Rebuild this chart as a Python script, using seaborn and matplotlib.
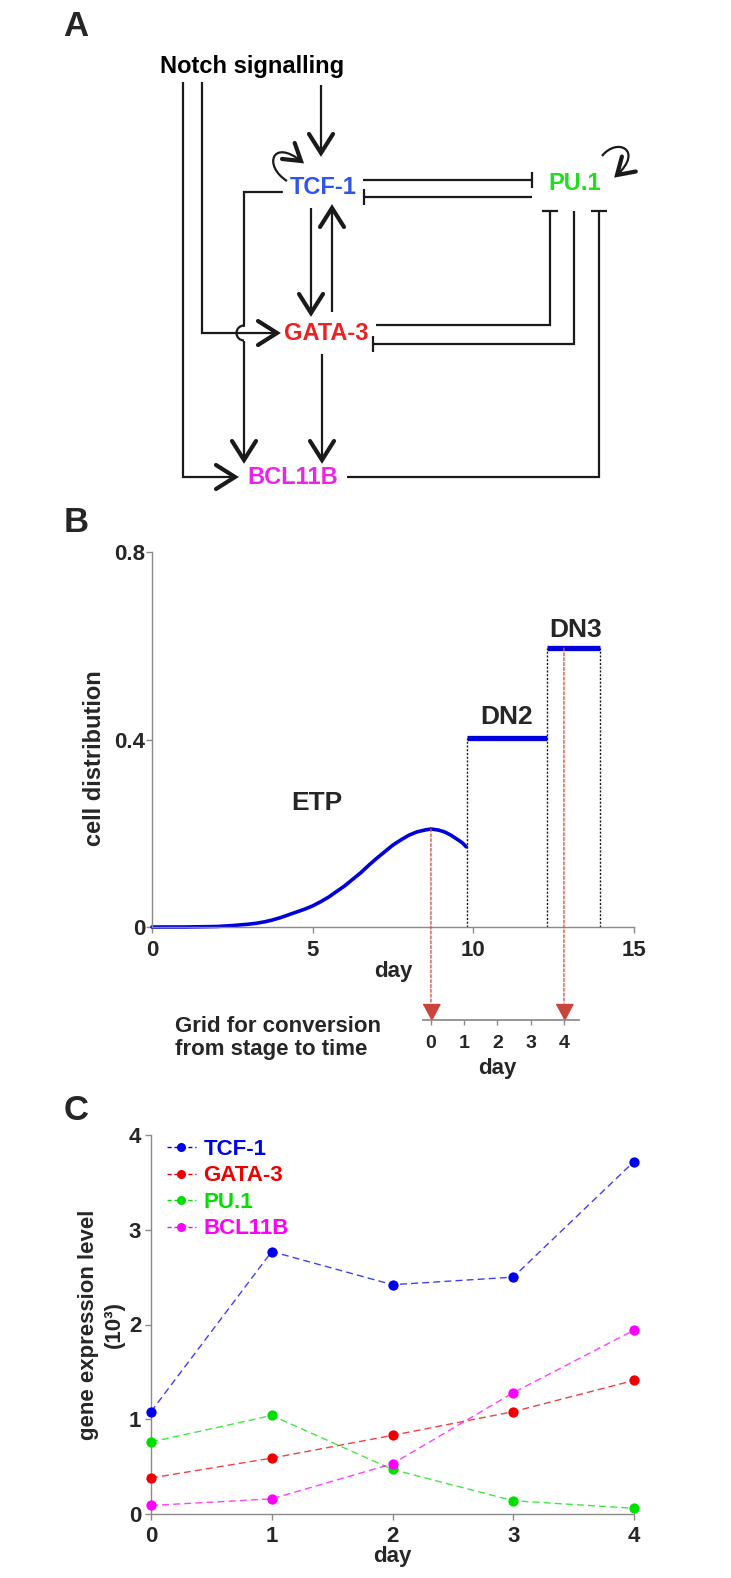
import numpy as np
import matplotlib
matplotlib.use('Agg')
import matplotlib.pyplot as plt
import seaborn as sns
from matplotlib.patches import Arc, PathPatch, ConnectionPatch
from matplotlib.path import Path
from matplotlib.lines import Line2D

# ---------------- data ----------------
# panel A: regulatory interactions (source, target, kind)
interactions = [
    ('Notch', 'BCL11B', 'act'),
    ('Notch', 'GATA-3', 'act'),
    ('Notch', 'TCF-1', 'act'),
    ('TCF-1', 'TCF-1', 'act'),
    ('PU.1', 'PU.1', 'act'),
    ('TCF-1', 'BCL11B', 'act'),
    ('TCF-1', 'GATA-3', 'act'),
    ('GATA-3', 'TCF-1', 'act'),
    ('TCF-1', 'PU.1', 'inh'),
    ('PU.1', 'TCF-1', 'inh'),
    ('GATA-3', 'PU.1', 'inh'),
    ('PU.1', 'GATA-3', 'inh'),
    ('GATA-3', 'BCL11B', 'act'),
    ('BCL11B', 'PU.1', 'inh'),
]
node_names = ['Notch', 'TCF-1', 'PU.1', 'GATA-3', 'BCL11B']
node_labels = ['Notch signalling', 'TCF-1', 'PU.1', 'GATA-3', 'BCL11B']

# panel B: stage distribution (ETP curve)
etp_day = [0, 1, 2, 2.5, 3, 3.25, 3.5, 3.75, 4, 4.25, 4.5, 4.75, 5, 5.25, 5.5, 5.75,
           6, 6.25, 6.5, 6.75, 7, 7.25, 7.5, 7.75, 8, 8.25, 8.5, 8.68, 8.9, 9.1,
           9.3, 9.5, 9.65, 9.78]
etp_frac = [0, 0, 0.001, 0.003, 0.006, 0.008, 0.011, 0.015, 0.020, 0.026, 0.032, 0.038,
            0.045, 0.054, 0.064, 0.076, 0.088, 0.102, 0.116, 0.132, 0.147, 0.161,
            0.175, 0.186, 0.196, 0.203, 0.207, 0.209, 0.207, 0.203, 0.196, 0.187,
            0.180, 0.171]
stage_names = ['ETP', 'DN2', 'DN3']
dn_start = [9.81, 12.29]
dn_end = [12.29, 13.95]
dn_level = [0.404, 0.595]
# stage-axis positions mapped onto day 0 and day 4 of the time grid
grid_days = [0, 1, 2, 3, 4]
grid_anchor_stage = [8.68, 12.82]
grid_anchor_level = [0.209, 0.595]

# panel C: gene expression (10^3)
days = [0, 1, 2, 3, 4]
tcf1 = [1.08, 2.77, 2.42, 2.50, 3.72]
gata3 = [0.38, 0.59, 0.83, 1.08, 1.41]
pu1 = [0.76, 1.04, 0.47, 0.14, 0.06]
bcl11b = [0.09, 0.16, 0.53, 1.28, 1.94]
genes = ['TCF-1', 'GATA-3', 'PU.1', 'BCL11B']

# ---------------- style ----------------
sns.set_theme(style='white')
plt.rcParams['font.family'] = ['Liberation Sans', 'DejaVu Sans']
plt.rcParams['font.weight'] = 'bold'
plt.rcParams['axes.labelweight'] = 'bold'

node_colors = {'Notch': 'black', 'TCF-1': '#2f55ee', 'PU.1': '#22dd22',
               'GATA-3': '#ee2020', 'BCL11B': '#ee22ee'}
line_colors = ['#0000ee', '#ee0000', '#00e000', '#ff00ff']
blue = '#0000dd'
red_dot = '#d9534f'
spine_gray = '#8a8a8a'

W, H = 731, 1578
fig = plt.figure(figsize=(W / 100, H / 100), dpi=100)


def px_axes(l, t, r, b):
    return fig.add_axes([l / W, 1 - b / H, (r - l) / W, (b - t) / H])


def style_axes(ax, labelsize=16, pad=3):
    sns.despine(ax=ax)
    for s in ['left', 'bottom']:
        ax.spines[s].set_color(spine_gray)
        ax.spines[s].set_linewidth(1.0)
    ax.tick_params(direction='out', length=4, width=1, color=spine_gray,
                   labelsize=labelsize, pad=pad, left=True, bottom=True)


# ---------------- panel A ----------------
node_pos = {'Notch': (252, 67), 'TCF-1': (323, 188), 'PU.1': (575, 184),
            'GATA-3': (326, 333), 'BCL11B': (293, 477)}
routes = {
    ('Notch', 'BCL11B'): [(183, 82), (183, 477), (235, 477)],
    ('Notch', 'GATA-3'): [(202, 82), (202, 333), (277, 333)],
    ('Notch', 'TCF-1'): [(321, 85), (321, 153)],
    ('TCF-1', 'GATA-3'): [(311, 208), (311, 313)],
    ('GATA-3', 'TCF-1'): [(332, 312), (332, 208)],
    ('TCF-1', 'PU.1'): [(363, 180), (532, 180)],
    ('PU.1', 'TCF-1'): [(532, 197), (364, 197)],
    ('GATA-3', 'PU.1'): [(376, 325), (550, 325), (550, 211)],
    ('PU.1', 'GATA-3'): [(574, 211), (574, 344), (373, 344)],
    ('GATA-3', 'BCL11B'): [(322, 354), (322, 460)],
    ('BCL11B', 'PU.1'): [(347, 477), (599, 477), (599, 211)],
    ('TCF-1', 'BCL11B'): [(282, 192), (244, 192), (244, 460)],
}
loops = {'TCF-1': [(287, 181), (263, 166), (272, 138), (301, 161)],
         'PU.1': [(602, 156), (617, 137), (644, 150), (617, 175)]}
hops = {('TCF-1', 'BCL11B'): (244, 333)}


def end_mark(ax, p_from, p_to, kind, size=1.0):
    d = np.array(p_to, float) - np.array(p_from, float)
    d /= np.hypot(*d)
    n = np.array([-d[1], d[0]])
    tip = np.array(p_to, float)
    if kind == 'act':
        L, w = 19 * size, 12 * size
        a, b = tip - d * L + n * w, tip - d * L - n * w
        ax.plot([a[0], tip[0], b[0]], [a[1], tip[1], b[1]], color='k', lw=3.0,
                solid_joinstyle='miter', solid_capstyle='round')
    else:
        a, b = tip + n * 8, tip - n * 8
        ax.plot([a[0], b[0]], [a[1], b[1]], color='k', lw=1.6, solid_capstyle='butt')


axA = px_axes(0, 0, W, 500)
axA.set_xlim(0, W)
axA.set_ylim(500, 0)
axA.axis('off')

for src, tgt, kind in interactions:
    if src == tgt:
        p = loops[src]
        path = Path(p, [Path.MOVETO, Path.CURVE4, Path.CURVE4, Path.CURVE4])
        axA.add_patch(PathPatch(path, fill=False, lw=1.6, ec='k'))
        end_mark(axA, p[2], p[3], kind, size=0.85)
        continue
    pts = routes[(src, tgt)]
    if (src, tgt) in hops:
        hx, hy = hops[(src, tgt)]
        r = 7.5
        first = pts[:-1] + [(hx, hy - r)]
        axA.plot(*zip(*first), color='k', lw=1.6, solid_joinstyle='miter')
        axA.add_patch(Arc((hx, hy), 2 * r, 2 * r, theta1=90, theta2=270, lw=1.6, color='k'))
        pts = [(hx, hy + r), pts[-1]]
    axA.plot(*zip(*pts), color='k', lw=1.6, solid_joinstyle='miter', solid_capstyle='butt')
    end_mark(axA, pts[-2], pts[-1], kind)

for name, label in zip(node_names, node_labels):
    x, y = node_pos[name]
    axA.text(x, y, label, ha='center', va='center', fontsize=17,
             color=node_colors[name], fontweight='bold')

# ---------------- panel B ----------------
axB = px_axes(152, 552, 634, 927)
sns.lineplot(x=etp_day, y=etp_frac, ax=axB, color=blue, lw=2.6,
             estimator=None, sort=False, clip_on=False)
axB.hlines(dn_level, dn_start, dn_end, color=blue, lw=3.8)
axB.vlines(dn_start, 0, dn_level, color='k', lw=1.0, linestyles=(0, (1.5, 1.2)))
axB.vlines(dn_end[-1], 0, dn_level[-1], color='k', lw=1.0, linestyles=(0, (1.5, 1.2)))
axB.set_xlim(0, 15)
axB.set_ylim(0, 0.8)
axB.set_xticks([0, 5, 10, 15])
axB.set_yticks([0, 0.4, 0.8], labels=['0', '0.4', '0.8'])
style_axes(axB, labelsize=16)
axB.tick_params(axis='y', pad=1)
axB.tick_params(axis='x', pad=5)
axB.set_xlabel('day', fontsize=16)
axB.xaxis.set_label_coords(0.5, -0.09)
axB.set_ylabel('cell distribution', fontsize=17)
axB.yaxis.set_label_coords(-0.095, 0.45)

stage_label_x = [5.12, 11.03, 13.17]
stage_label_y = [0.264, 0.448, 0.633]
for name, x, y in zip(stage_names, stage_label_x, stage_label_y):
    axB.text(x, y, name, ha='center', va='center', fontsize=19, fontweight='bold')

# time grid under panel B
grid_pos = np.interp(grid_days, [grid_days[0], grid_days[-1]], grid_anchor_stage)
axG = px_axes(152, 1003, 634, 1020)
axG.patch.set_alpha(0)
axG.set_xlim(0, 15)
axG.set_ylim(0, 1)
for s in ['left', 'top', 'right']:
    axG.spines[s].set_visible(False)
axG.spines['bottom'].set_color(spine_gray)
axG.spines['bottom'].set_bounds(grid_pos[0] - 0.26, grid_pos[-1] + 0.48)
axG.set_yticks([])
axG.set_xticks(grid_pos, labels=[str(d) for d in grid_days])
axG.tick_params(axis='x', direction='out', length=3.5, width=1, color=spine_gray,
                labelsize=14, pad=7, bottom=True)
axG.set_xlabel('day', fontsize=16)
axG.xaxis.set_label_coords(grid_pos[2] / 15, -2.25)

tri = [(-0.53, 1), (0.53, 1), (0, 0)]
for xs, lvl in zip(grid_anchor_stage, grid_anchor_level):
    con = ConnectionPatch(xyA=(xs, lvl), coordsA=axB.transData,
                          xyB=(xs, 1), coordsB=axG.transData,
                          color=red_dot, lw=1.0, linestyle=(0, (2, 1.5)))
    fig.add_artist(con)
axG.plot(grid_anchor_stage, [0, 0], ls='none', marker=tri, ms=23,
         color='#c9453c', clip_on=False)

fig.text(175 / W, 1 - 1016 / H, 'Grid for conversion\nfrom stage to time',
         ha='left', va='top', fontsize=16, fontweight='bold', linespacing=1.12)

# ---------------- panel C ----------------
axC = px_axes(151, 1135, 634, 1514)
handles = []
for gene, vals, col in zip(genes, [tcf1, gata3, pu1, bcl11b], line_colors):
    sns.lineplot(x=days, y=vals, ax=axC, color=col, lw=1.0, alpha=0.75,
                 linestyle=(0, (5, 3)), estimator=None, legend=False, clip_on=False)
    sns.scatterplot(x=days, y=vals, ax=axC, color=col, s=55, linewidth=0,
                    legend=False, clip_on=False, zorder=3)
    handles.append(Line2D([], [], color=col, lw=1.0, linestyle=(0, (3, 2)),
                          marker='o', ms=6.5, mew=0))
axC.set_xlim(0, 4)
axC.set_ylim(0, 4)
axC.set_xticks(days)
axC.set_yticks([0, 1, 2, 3, 4])
style_axes(axC, labelsize=16)
axC.tick_params(axis='y', pad=3)
axC.tick_params(axis='x', pad=5)
axC.set_xlabel('day', fontsize=16)
axC.xaxis.set_label_coords(0.5, -0.085)
axC.set_ylabel('gene expression level\n(10³)', fontsize=16, linespacing=1.3)
axC.yaxis.set_label_coords(-0.055, 0.5)
leg = axC.legend(handles, genes, loc='upper left', bbox_to_anchor=(0.033, 0.99),
                 frameon=False, borderaxespad=0, borderpad=0, handlelength=1.3,
                 handletextpad=0.35, labelspacing=0.25,
                 labelcolor=line_colors, prop={'weight': 'bold', 'size': 16})

# panel letters
for letter, y in zip(['A', 'B', 'C'], [27, 522, 1110]):
    fig.text(76 / W, 1 - y / H, letter, ha='center', va='center',
             fontsize=25, fontweight='bold')

fig.savefig('out.png', dpi=100)
